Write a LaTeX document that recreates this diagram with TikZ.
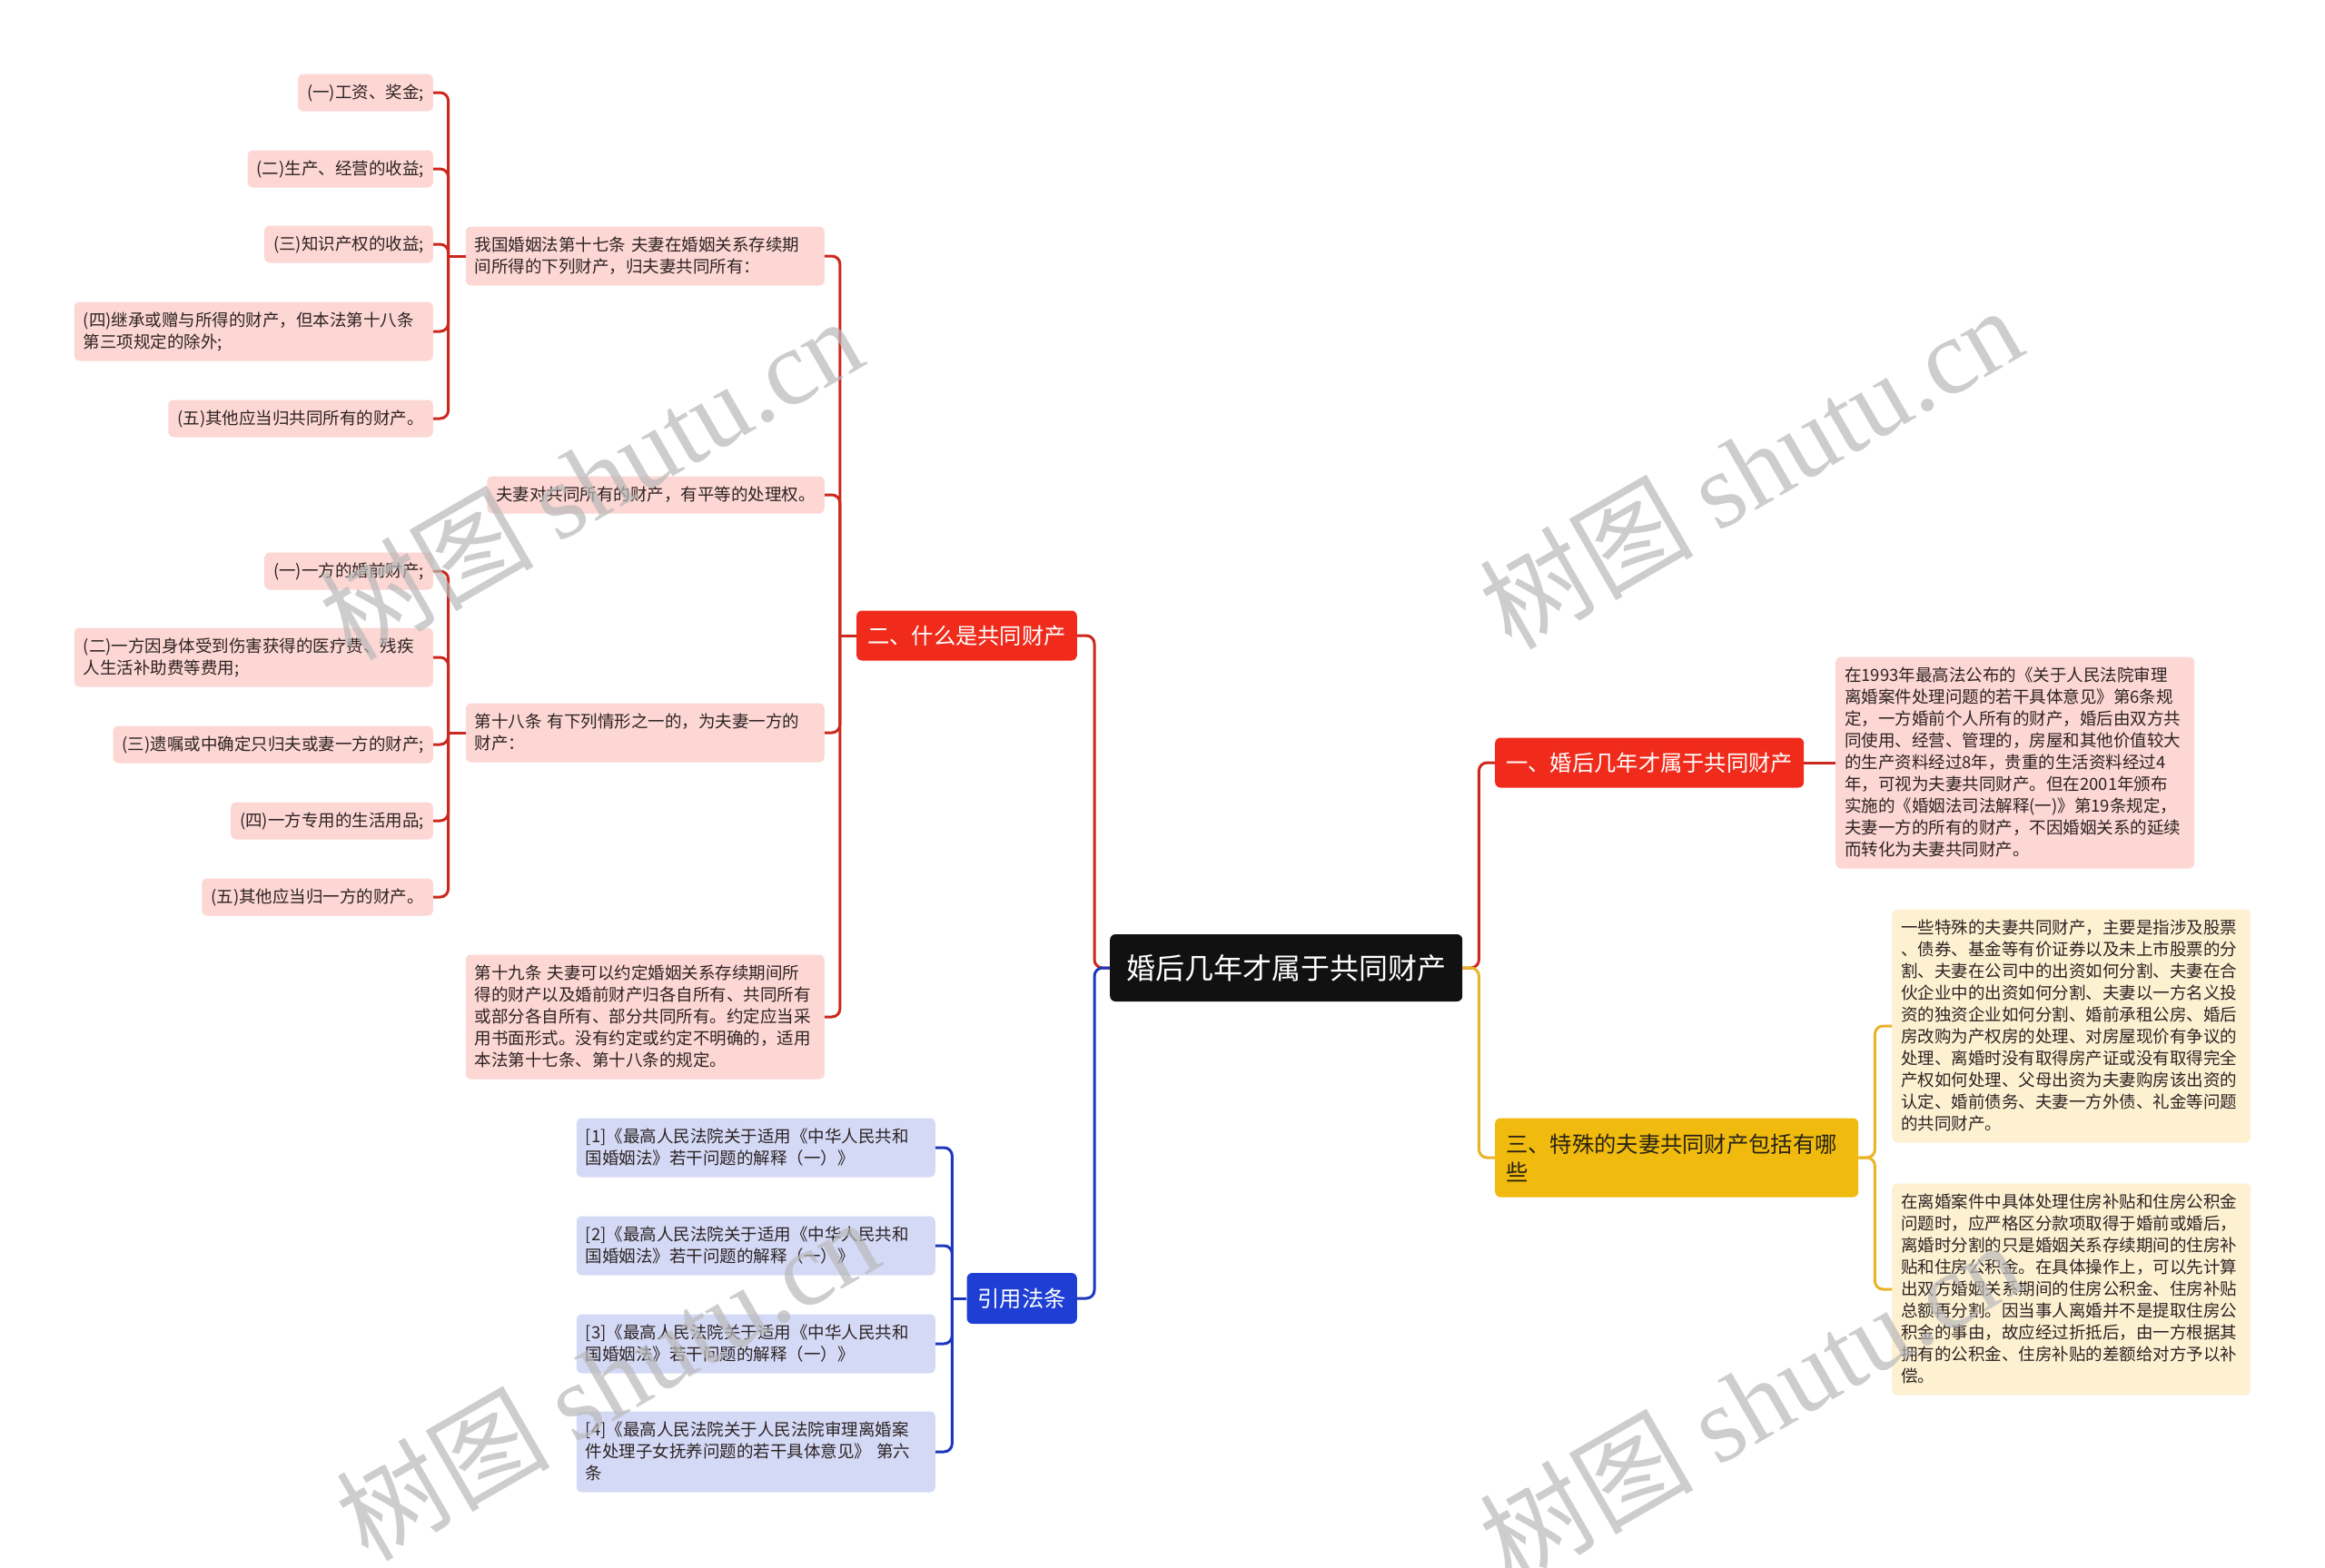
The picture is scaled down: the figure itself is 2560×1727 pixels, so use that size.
\documentclass[tikz,border=0pt]{standalone}
\usepackage{fontspec}
\setmainfont{Noto Sans CJK SC}
\newfontfamily\markfont{Liberation Serif}
\definecolor{pinkfill}{RGB}{252,215,211}
\definecolor{bluefill}{RGB}{212,217,246}
\definecolor{yellowfill}{RGB}{253,241,210}
\definecolor{redmain}{RGB}{240,43,27}
\definecolor{yellowmain}{RGB}{240,186,14}
\definecolor{bluemain}{RGB}{31,63,212}
\definecolor{rootfill}{RGB}{17,17,17}
\definecolor{redline}{RGB}{204,40,30}
\definecolor{blueline}{RGB}{30,55,190}
\definecolor{yellowline}{RGB}{232,180,40}
\definecolor{leaftext}{RGB}{45,35,35}
\definecolor{darktext}{RGB}{40,35,20}
\newcommand\lstrut{\rule[-5.5pt]{0pt}{24pt}}
\tikzset{
  leafbox/.style={rounded corners=6pt,inner xsep=10pt,inner ysep=8.5pt,align=left,text=leaftext,
    font=\fontsize{18.5}{24}\selectfont,execute at begin node=\lstrut,execute at end node=\lstrut},
  pinkbox/.style={leafbox,fill=pinkfill},
  bluebox/.style={leafbox,fill=bluefill},
  yellowbox/.style={leafbox,fill=yellowfill},
  widebox/.style={text width=375pt},
  topic/.style={rounded corners=6pt,inner xsep=12pt,inner ysep=0pt,minimum height=55pt,align=left,
    text=white,font=\fontsize{24.3}{31}\selectfont},
  branch/.style={line width=3pt,rounded corners=9pt},
  wmark/.style={text=gray!55,opacity=.7,rotate=30,font=\fontsize{118}{118}\selectfont}
}
\begin{document}
\begin{tikzpicture}[x=1pt,y=-1pt]
\path[use as bounding box,fill=white] (0,0) rectangle (2560,1727);
% centre and main topics
\node[topic,fill=rootfill,font=\fontsize{32}{38}\selectfont,minimum width=388pt,minimum height=74pt,anchor=west] (root) at (1222,1066) {婚后几年才属于共同财产};
\node[topic,fill=redmain,anchor=west] (t1) at (1646,840) {一、婚后几年才属于共同财产};
\node[topic,fill=yellowmain,text=darktext,text width=376pt,minimum height=87pt,anchor=west] (t3) at (1646,1275) {三、特殊的夫妻共同财产包括有哪\\些};
\node[topic,fill=redmain,anchor=east] (t2) at (1186,700) {二、什么是共同财产};
\node[topic,fill=bluemain,minimum height=56pt,anchor=east] (t4) at (1186,1430) {引用法条};
% right side texts
\node[pinkbox,widebox,anchor=west] (r1) at (2021,840) {在1993年最高法公布的《关于人民法院审理\\离婚案件处理问题的若干具体意见》第6条规\\定，一方婚前个人所有的财产，婚后由双方共\\同使用、经营、管理的，房屋和其他价值较大\\的生产资料经过8年，贵重的生活资料经过4\\年，可视为夫妻共同财产。但在2001年颁布\\实施的《婚姻法司法解释(一)》第19条规定，\\夫妻一方的所有的财产，不因婚姻关系的延续\\而转化为夫妻共同财产。};
\node[yellowbox,widebox,anchor=west] (y1) at (2083,1130) {一些特殊的夫妻共同财产，主要是指涉及股票\\、债券、基金等有价证券以及未上市股票的分\\割、夫妻在公司中的出资如何分割、夫妻在合\\伙企业中的出资如何分割、夫妻以一方名义投\\资的独资企业如何分割、婚前承租公房、婚后\\房改购为产权房的处理、对房屋现价有争议的\\处理、离婚时没有取得房产证或没有取得完全\\产权如何处理、父母出资为夫妻购房该出资的\\认定、婚前债务、夫妻一方外债、礼金等问题\\的共同财产。};
\node[yellowbox,widebox,anchor=west] (y2) at (2083,1420) {在离婚案件中具体处理住房补贴和住房公积金\\问题时，应严格区分款项取得于婚前或婚后，\\离婚时分割的只是婚姻关系存续期间的住房补\\贴和住房公积金。在具体操作上，可以先计算\\出双方婚姻关系期间的住房公积金、住房补贴\\总额再分割。因当事人离婚并不是提取住房公\\积金的事由，故应经过折抵后，由一方根据其\\拥有的公积金、住房补贴的差额给对方予以补\\偿。};
% left side: articles
\node[pinkbox,widebox,anchor=east] (s1) at (908,282) {我国婚姻法第十七条 夫妻在婚姻关系存续期\\间所得的下列财产，归夫妻共同所有：};
\node[pinkbox,anchor=east] (s2) at (908,545) {夫妻对共同所有的财产，有平等的处理权。};
\node[pinkbox,widebox,anchor=east] (s3) at (908,807) {第十八条 有下列情形之一的，为夫妻一方的\\财产：};
\node[pinkbox,widebox,anchor=east] (s4) at (908,1120) {第十九条 夫妻可以约定婚姻关系存续期间所\\得的财产以及婚前财产归各自所有、共同所有\\或部分各自所有、部分共同所有。约定应当采\\用书面形式。没有约定或约定不明确的，适用\\本法第十七条、第十八条的规定。};
\node[pinkbox,anchor=east] (a1) at (477,102) {(一)工资、奖金;};
\node[pinkbox,anchor=east] (a2) at (477,186) {(二)生产、经营的收益;};
\node[pinkbox,anchor=east] (a3) at (477,269) {(三)知识产权的收益;};
\node[pinkbox,widebox,anchor=east] (a4) at (477,365) {(四)继承或赠与所得的财产，但本法第十八条\\第三项规定的除外;};
\node[pinkbox,anchor=east] (a5) at (477,461) {(五)其他应当归共同所有的财产。};
\node[pinkbox,anchor=east] (b1) at (477,629) {(一)一方的婚前财产;};
\node[pinkbox,widebox,anchor=east] (b2) at (477,724) {(二)一方因身体受到伤害获得的医疗费、残疾\\人生活补助费等费用;};
\node[pinkbox,anchor=east] (b3) at (477,820) {(三)遗嘱或中确定只归夫或妻一方的财产;};
\node[pinkbox,anchor=east] (b4) at (477,904) {(四)一方专用的生活用品;};
\node[pinkbox,anchor=east] (b5) at (477,988) {(五)其他应当归一方的财产。};
% references
\node[bluebox,widebox,anchor=east] (c1) at (1030,1264) {[1]《最高人民法院关于适用《中华人民共和\\国婚姻法》若干问题的解释（一）》};
\node[bluebox,widebox,anchor=east] (c2) at (1030,1372) {[2]《最高人民法院关于适用《中华人民共和\\国婚姻法》若干问题的解释（一）》};
\node[bluebox,widebox,anchor=east] (c3) at (1030,1480) {[3]《最高人民法院关于适用《中华人民共和\\国婚姻法》若干问题的解释（一）》};
\node[bluebox,widebox,anchor=east] (c4) at (1030,1599) {[4]《最高人民法院关于人民法院审理离婚案\\件处理子女抚养问题的若干具体意见》 第六\\条};
% connectors
\draw[branch,redline] (root.east) -- ++(18,0) |- (t1.west);
\draw[branch,yellowline] (root.east) -- ++(18,0) |- (t3.west);
\draw[branch,redline] (root.west) -- ++(-17,0) |- (t2.east);
\draw[branch,blueline] (root.west) -- ++(-17,0) |- (t4.east);
\draw[branch,redline] (t1.east) -- (r1.west);
\draw[branch,yellowline] (t3.east) -- ++(18,0) |- (y1.west);
\draw[branch,yellowline] (t3.east) -- ++(18,0) |- (y2.west);
\draw[branch,redline] (t2.west) -- ++(-18,0);
\draw[branch,redline] ([xshift=-18pt]t2.west) |- (s1.east);
\draw[branch,redline] ([xshift=-18pt]t2.west) |- (s2.east);
\draw[branch,redline] ([xshift=-18pt]t2.west) |- (s3.east);
\draw[branch,redline] ([xshift=-18pt]t2.west) |- (s4.east);
\draw[branch,redline] (s1.west) -- ++(-19,0);
\draw[branch,redline] ([xshift=-19pt]s1.west) |- (a1.east);
\draw[branch,redline] ([xshift=-19pt]s1.west) |- (a2.east);
\draw[branch,redline] ([xshift=-19pt]s1.west) |- (a3.east);
\draw[branch,redline] ([xshift=-19pt]s1.west) |- (a4.east);
\draw[branch,redline] ([xshift=-19pt]s1.west) |- (a5.east);
\draw[branch,redline] (s3.west) -- ++(-19,0);
\draw[branch,redline] ([xshift=-19pt]s3.west) |- (b1.east);
\draw[branch,redline] ([xshift=-19pt]s3.west) |- (b2.east);
\draw[branch,redline] ([xshift=-19pt]s3.west) |- (b3.east);
\draw[branch,redline] ([xshift=-19pt]s3.west) |- (b4.east);
\draw[branch,redline] ([xshift=-19pt]s3.west) |- (b5.east);
\draw[branch,blueline] (t4.west) -- ++(-16,0);
\draw[branch,blueline] ([xshift=-16pt]t4.west) |- (c1.east);
\draw[branch,blueline] ([xshift=-16pt]t4.west) |- (c2.east);
\draw[branch,blueline] ([xshift=-16pt]t4.west) |- (c3.east);
\draw[branch,blueline] ([xshift=-16pt]t4.west) |- (c4.east);
% watermarks
\node[wmark] (wm1) at (650,526) {树图 {\markfont shutu.cn}};
\node[wmark] (wm2) at (1927,514) {树图 {\markfont shutu.cn}};
\node[wmark] (wm3) at (668,1518) {树图 {\markfont shutu.cn}};
\node[wmark] (wm4) at (1927,1543) {树图 {\markfont shutu.cn}};
\end{tikzpicture}
\end{document}
